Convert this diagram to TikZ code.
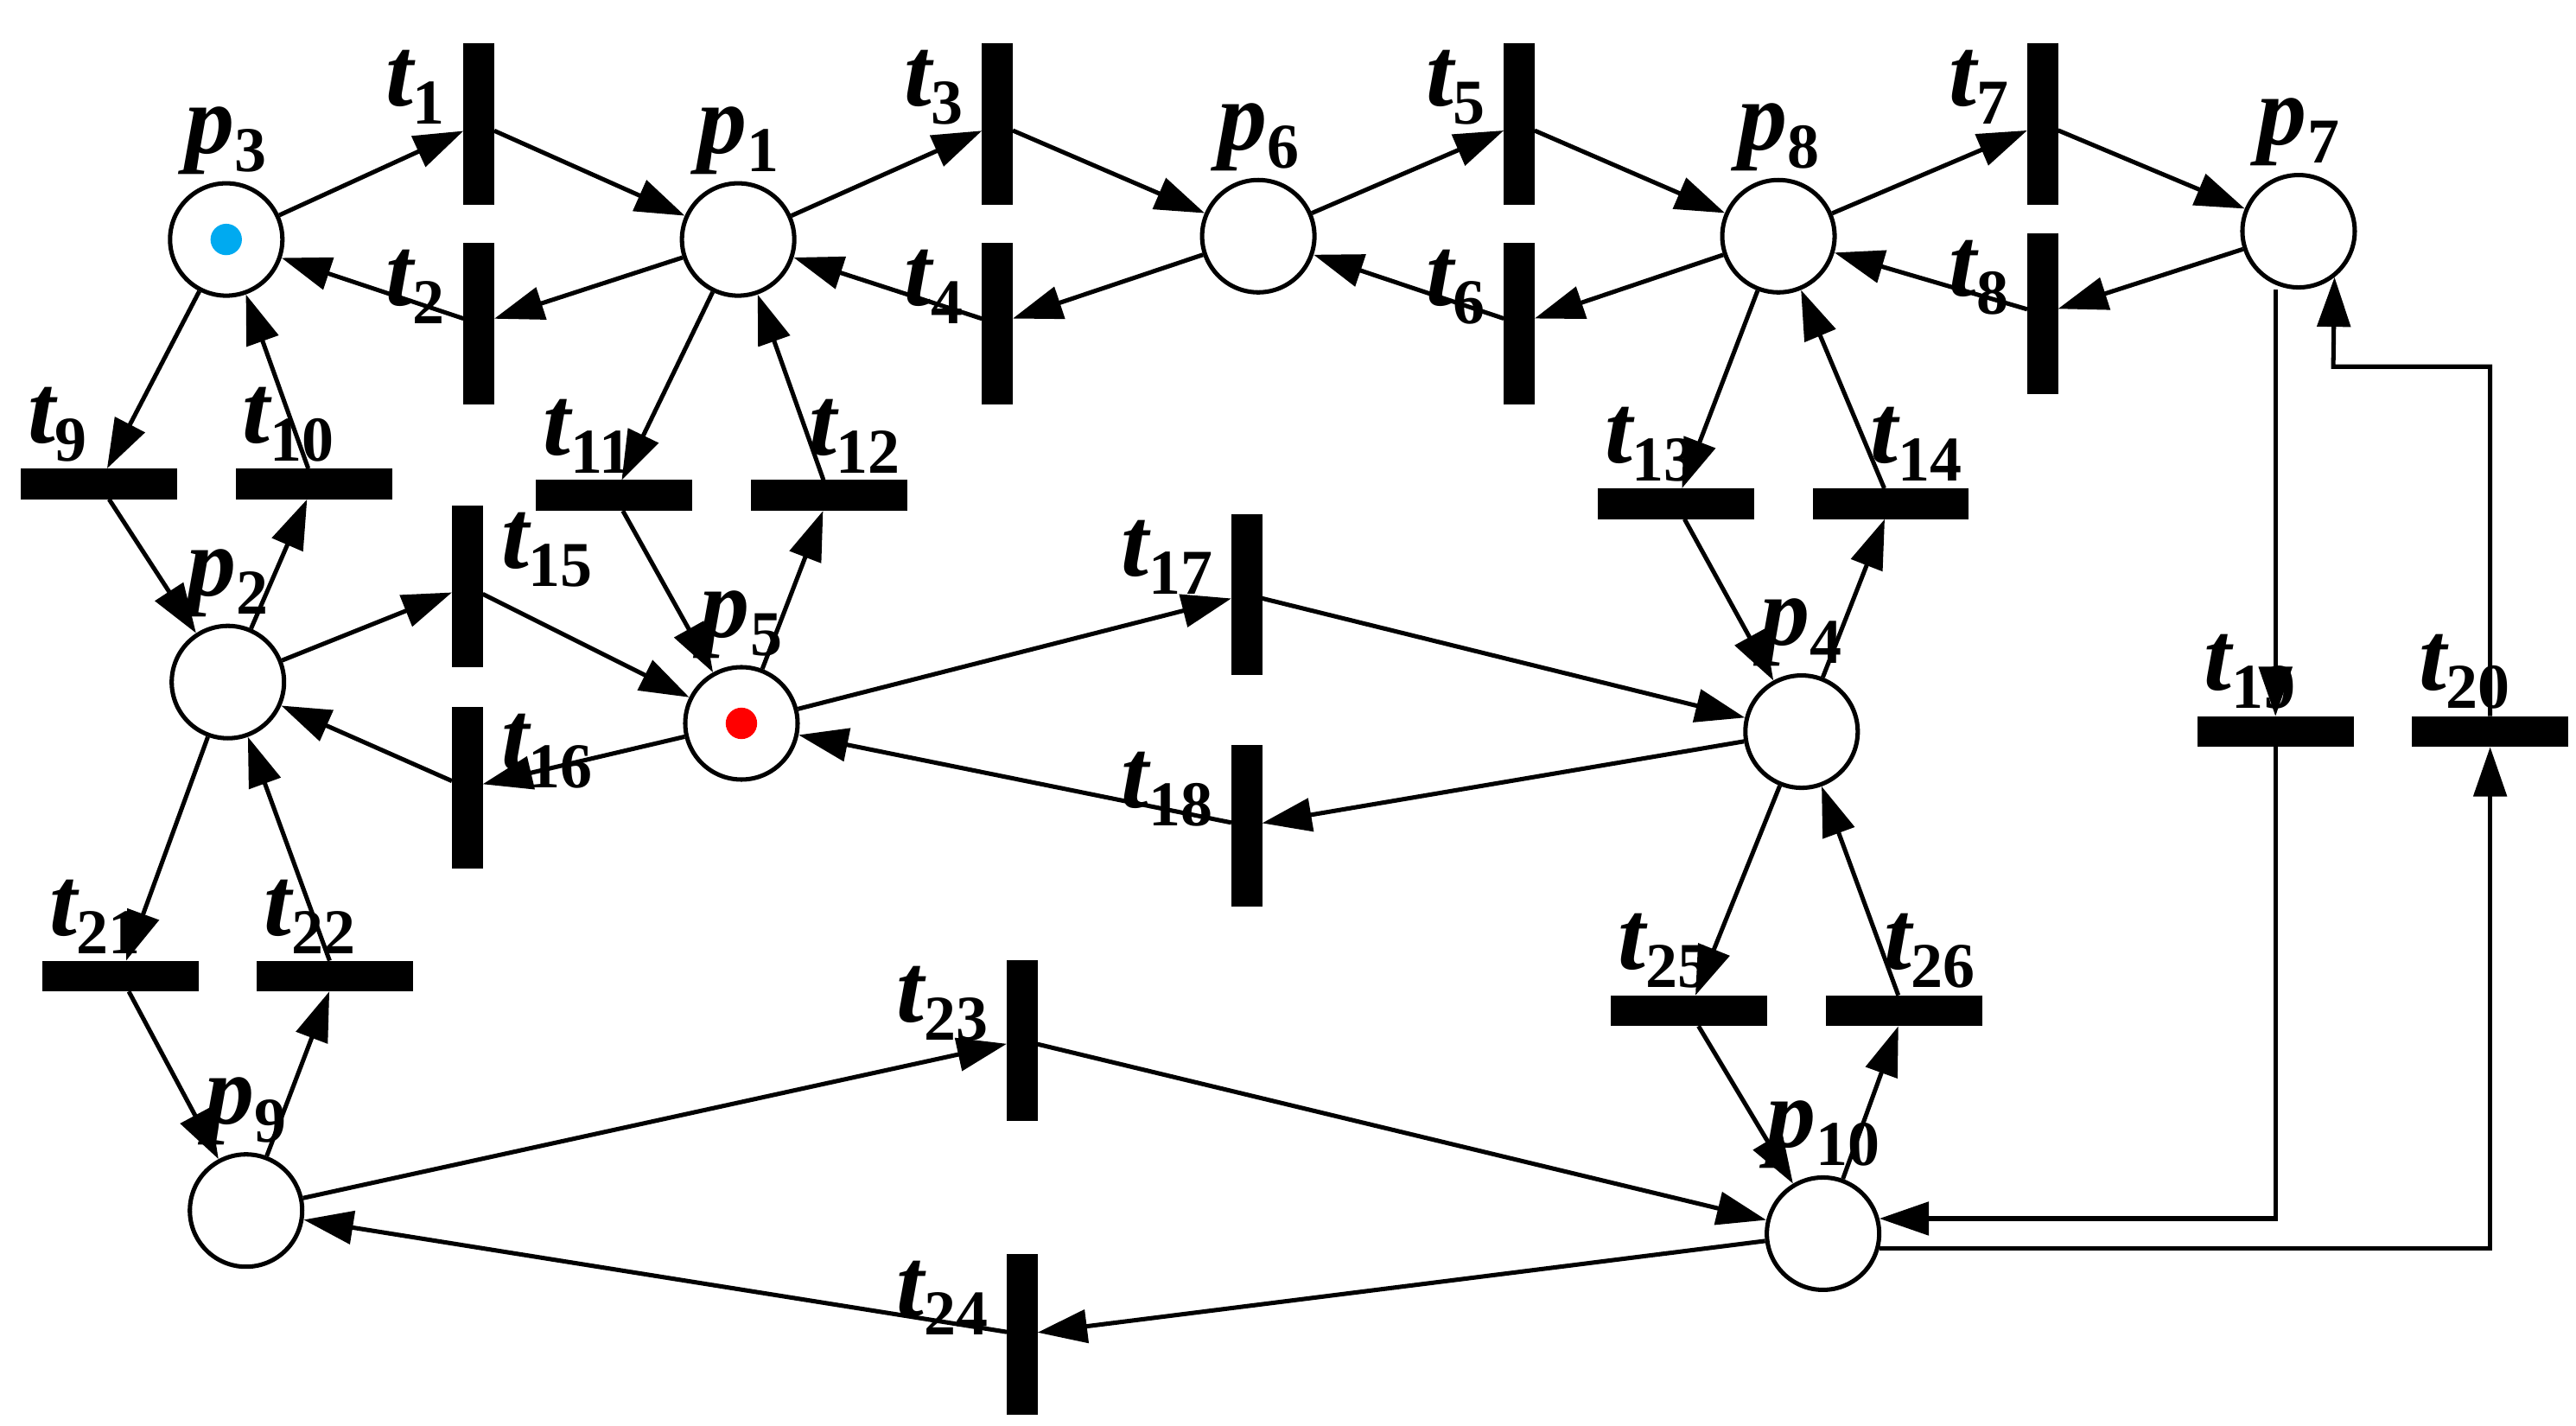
\documentclass[tikz,border=0pt]{standalone}
\usepackage{fontspec}
\setmainfont{Liberation Serif}
\usetikzlibrary{arrows.meta}
\newcommand{\lab}[2]{{\bfseries\itshape #1}\raisebox{-0.4ex}{\bfseries\fontsize{11}{11}\selectfont #2}}
\begin{document}
\begin{tikzpicture}[x=0.01cm,y=-0.01cm,
        base/.style={draw,line width=0.75pt,inner sep=0pt},
        place/.style={base,circle,minimum size=0.68cm},
        vbar/.style={base,fill=black,minimum width=0.16cm,minimum height=0.95cm},
        hbar/.style={base,fill=black,minimum width=0.92cm,minimum height=0.16cm},
        lab/.style={inner sep=1pt,font=\fontsize{17}{17}\selectfont},
        token/.style={circle,inner sep=0pt,minimum size=0.19cm},
        arc/.style={line width=0.75pt,-{Triangle[length=0.3cm,width=0.2cm]}}]
    \useasboundingbox (0,0) rectangle (1560,863);
    % places
    \node[place,label={[lab]above:\lab{p}{3}}] (p3) at (137,145) {};
    \node[place,label={[lab]above:\lab{p}{1}}] (p1) at (447,145) {};
    \node[place,label={[lab]above:\lab{p}{6}}] (p6) at (762,143) {};
    \node[place,label={[lab]above:\lab{p}{8}}] (p8) at (1077,143) {};
    \node[place,label={[lab]above:\lab{p}{7}}] (p7) at (1392,140) {};
    \node[place,label={[lab]above:\lab{p}{2}}] (p2) at (138,413) {};
    \node[place,label={[lab]above:\lab{p}{5}}] (p5) at (449,438) {};
    \node[place,label={[lab]above:\lab{p}{4}}] (p4) at (1091,443) {};
    \node[place,label={[lab]above:\lab{p}{9}}] (p9) at (149,733) {};
    \node[place,label={[lab]above:\lab{p}{10}}] (p10) at (1104,747) {};
    % tokens
    \node[token,fill={rgb,255:red,0;green,170;blue,240}] (m3) at (p3) {};
    \node[token,fill=red] (m5) at (p5) {};
    % vertical transitions
    \node[vbar,label={[lab,anchor=north east,xshift=-2pt]north west:\lab{t}{1}}] (t1) at (290,75) {};
    \node[vbar,label={[lab,anchor=north east,xshift=-2pt]north west:\lab{t}{2}}] (t2) at (290,196) {};
    \node[vbar,label={[lab,anchor=north east,xshift=-2pt]north west:\lab{t}{3}}] (t3) at (604,75) {};
    \node[vbar,label={[lab,anchor=north east,xshift=-2pt]north west:\lab{t}{4}}] (t4) at (604,196) {};
    \node[vbar,label={[lab,anchor=north east,xshift=-2pt]north west:\lab{t}{5}}] (t5) at (920,75) {};
    \node[vbar,label={[lab,anchor=north east,xshift=-2pt]north west:\lab{t}{6}}] (t6) at (920,196) {};
    \node[vbar,label={[lab,anchor=north east,xshift=-2pt]north west:\lab{t}{7}}] (t7) at (1237,75) {};
    \node[vbar,label={[lab,anchor=north east,xshift=-2pt]north west:\lab{t}{8}}] (t8) at (1237,190) {};
    \node[vbar,label={[lab,anchor=north west,xshift=2pt]north east:\lab{t}{15}}] (t15) at (283,355) {};
    \node[vbar,label={[lab,anchor=north west,xshift=2pt]north east:\lab{t}{16}}] (t16) at (283,477) {};
    \node[vbar,label={[lab,anchor=north east,xshift=-2pt]north west:\lab{t}{17}}] (t17) at (755,360) {};
    \node[vbar,label={[lab,anchor=north east,xshift=-2pt]north west:\lab{t}{18}}] (t18) at (755,500) {};
    \node[vbar,label={[lab,anchor=north east,xshift=-2pt]north west:\lab{t}{23}}] (t23) at (619,630) {};
    \node[vbar,label={[lab,anchor=north east,xshift=-2pt]north west:\lab{t}{24}}] (t24) at (619,808) {};
    % horizontal transitions
    \node[hbar,label={[lab,anchor=south west]north west:\lab{t}{9}}] (t9) at (60,293) {};
    \node[hbar,label={[lab,anchor=south west]north west:\lab{t}{10}}] (t10) at (190,293) {};
    \node[hbar,label={[lab,anchor=south west]north west:\lab{t}{11}}] (t11) at (372,300) {};
    \node[hbar,label={[lab,anchor=south east]north east:\lab{t}{12}}] (t12) at (502,300) {};
    \node[hbar,label={[lab,anchor=south west]north west:\lab{t}{13}}] (t13) at (1015,305) {};
    \node[hbar,label={[lab,anchor=south east]north east:\lab{t}{14}}] (t14) at (1145,305) {};
    \node[hbar,label={[lab,anchor=south west]north west:\lab{t}{19}}] (t19) at (1378,443) {};
    \node[hbar,label={[lab,anchor=south west]north west:\lab{t}{20}}] (t20) at (1508,443) {};
    \node[hbar,label={[lab,anchor=south west]north west:\lab{t}{21}}] (t21) at (73,591) {};
    \node[hbar,label={[lab,anchor=south west]north west:\lab{t}{22}}] (t22) at (203,591) {};
    \node[hbar,label={[lab,anchor=south west]north west:\lab{t}{25}}] (t25) at (1023,612) {};
    \node[hbar,label={[lab,anchor=south east]north east:\lab{t}{26}}] (t26) at (1153,612) {};
    % arcs
    \foreach \a/\b in {p3/t1,t1/p1,p1/t2,t2/p3,p1/t3,t3/p6,p6/t4,t4/p1,
            p6/t5,t5/p8,p8/t6,t6/p6,p8/t7,t7/p7,p7/t8,t8/p8,
            p3/t9,t9/p2,p2/t10,t10/p3,p1/t11,t11/p5,p5/t12,t12/p1,
            p8/t13,t13/p4,p4/t14,t14/p8,p2/t15,t15/p5,p5/t16,t16/p2,
            p5/t17,t17/p4,p4/t18,t18/p5,p2/t21,t21/p9,p9/t22,t22/p2,
            p4/t25,t25/p10,p10/t26,t26/p4,p9/t23,t23/p10,p10/t24,t24/p9}
        \draw[arc] (\a) -- (\b);
    \coordinate (k7) at (1413,222);
    \draw[arc] (t19 |- p7.south) -- (t19.north);
    \draw[arc] (t19.south) |- (p10.15);
    \draw[arc] (p10.-15) -| (t20.south);
    \draw[arc] (t20.north) |- (k7) -- (p7.-52);
\end{tikzpicture}
\end{document}
